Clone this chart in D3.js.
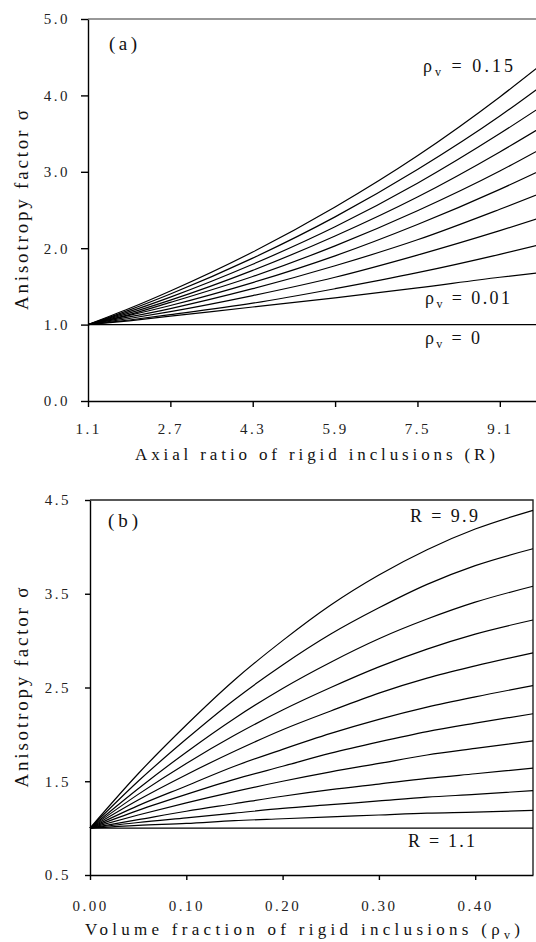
<!DOCTYPE html>
<html lang="en">
  <head>
    <meta charset="utf-8">
    <title>Anisotropy factor vs inclusions</title>
  </head>
  <style>
    body { margin: 0; background: #fff; }
    .axis path, .axis line { stroke: #000; stroke-width: 1.4px; }
    .axis text {
      font-family: 'Liberation Serif', 'DejaVu Serif', serif;
      font-size: 15px;
      fill: #222;
      letter-spacing: 2.5px;
    }
    .title, .note {
      font-family: 'Liberation Serif', 'DejaVu Serif', serif;
      fill: #111;
    }
    .curve { fill: none; stroke: #000; stroke-width: 1.2px; }
  </style>
  <body>
    <div id="svg-area"></div>
    <script src="https://cdn.jsdelivr.net/npm/d3@7"></script>
    <script>
      const svg_width = 536;
      const svg_height = 942;

      // panel (a): sigma against axial ratio R, one line per volume fraction
      const R_points = [1.1, 1.9, 2.7, 4.3, 5.9, 7.5, 9.1, 9.9];
      const sigma_a = [
        [1, 1.21, 1.44, 1.95, 2.54, 3.21, 3.98, 4.40],
        [1, 1.19, 1.40, 1.87, 2.41, 3.03, 3.73, 4.12],
        [1, 1.17, 1.36, 1.79, 2.28, 2.85, 3.50, 3.85],
        [1, 1.15, 1.32, 1.71, 2.16, 2.67, 3.26, 3.58],
        [1, 1.13, 1.29, 1.63, 2.03, 2.49, 3.01, 3.30],
        [1, 1.12, 1.25, 1.55, 1.90, 2.31, 2.77, 3.02],
        [1, 1.10, 1.21, 1.47, 1.77, 2.11, 2.51, 2.72],
        [1, 1.08, 1.17, 1.38, 1.62, 1.91, 2.23, 2.40],
        [1, 1.06, 1.13, 1.28, 1.47, 1.68, 1.92, 2.05],
        [1, 1.05, 1.11, 1.23, 1.35, 1.48, 1.62, 1.68],
        [1, 1.00, 1.00, 1.00, 1.00, 1.00, 1.00, 1.00]
      ];
      const ticks_a_x = [1.1, 2.7, 4.3, 5.9, 7.5, 9.1];
      const ticks_a_y = [0, 1, 2, 3, 4, 5];

      // panel (b): sigma against volume fraction, one line per axial ratio
      const rho_points = [0, 0.05, 0.10, 0.15, 0.20, 0.25, 0.30, 0.35, 0.40, 0.46];
      const sigma_b = [
        [1, 1.58, 2.10, 2.58, 3.00, 3.38, 3.70, 3.97, 4.19, 4.39],
        [1, 1.50, 1.95, 2.37, 2.74, 3.07, 3.35, 3.60, 3.80, 3.98],
        [1, 1.42, 1.81, 2.17, 2.49, 2.77, 3.02, 3.23, 3.41, 3.58],
        [1, 1.36, 1.69, 1.99, 2.26, 2.50, 2.72, 2.91, 3.07, 3.22],
        [1, 1.30, 1.57, 1.82, 2.05, 2.25, 2.44, 2.60, 2.73, 2.87],
        [1, 1.24, 1.45, 1.66, 1.84, 2.01, 2.16, 2.29, 2.40, 2.52],
        [1, 1.19, 1.36, 1.52, 1.66, 1.80, 1.92, 2.03, 2.12, 2.22],
        [1, 1.14, 1.27, 1.39, 1.50, 1.60, 1.69, 1.78, 1.85, 1.93],
        [1, 1.09, 1.18, 1.26, 1.34, 1.41, 1.47, 1.53, 1.58, 1.64],
        [1, 1.06, 1.11, 1.16, 1.21, 1.25, 1.29, 1.33, 1.36, 1.40],
        [1, 1.03, 1.05, 1.08, 1.10, 1.12, 1.14, 1.16, 1.17, 1.19],
        [1, 1.00, 1.00, 1.00, 1.00, 1.00, 1.00, 1.00, 1.00, 1.00]
      ];
      const ticks_b_x = [0, 0.1, 0.2, 0.3, 0.4];
      const ticks_b_y = [0.5, 1.5, 2.5, 3.5, 4.5];

      const svg = d3.select('#svg-area')
        .append('svg')
        .attr('width', svg_width)
        .attr('height', svg_height);

      //scales
      const xa = d3.scaleLinear().domain([1.1, 9.9]).range([88, 541]);
      const ya = d3.scaleLinear().domain([0, 5]).range([401, 19]);
      const xb = d3.scaleLinear().domain([0, 0.46]).range([90, 533]);
      const yb = d3.scaleLinear().domain([0.5, 4.5]).range([875, 500]);

      //axes panel (a)
      svg.append('g').attr('class', 'axis')
        .attr('transform', `translate(0,${ya(0)})`)
        .call(d3.axisBottom(xa).tickValues(ticks_a_x).tickFormat(d3.format('.1f'))
          .tickSize(6).tickPadding(16).tickSizeOuter(0));
      svg.append('g').attr('class', 'axis')
        .attr('transform', `translate(${xa(1.1)},0)`)
        .call(d3.axisLeft(ya).tickValues(ticks_a_y).tickFormat(d3.format('.1f'))
          .tickSize(7).tickPadding(11).tickSizeOuter(0));
      svg.append('line')
        .attr('x1', xa(1.1)).attr('x2', svg_width)
        .attr('y1', ya(5)).attr('y2', ya(5))
        .attr('stroke', '#333').attr('stroke-width', 1.2);

      //axes panel (b)
      svg.append('g').attr('class', 'axis')
        .attr('transform', `translate(0,${yb(0.5)})`)
        .call(d3.axisBottom(xb).tickValues(ticks_b_x).tickFormat(d3.format('.2f'))
          .tickSize(5).tickPadding(20).tickSizeOuter(0));
      svg.append('g').attr('class', 'axis')
        .attr('transform', `translate(${xb(0)},0)`)
        .call(d3.axisLeft(yb).tickValues(ticks_b_y).tickFormat(d3.format('.1f'))
          .tickSize(5).tickPadding(14).tickSizeOuter(0));
      svg.append('path')
        .attr('d', `M${xb(0)},${yb(4.5)}H${xb(0.46)}V${yb(0.5)}`)
        .attr('fill', 'none').attr('stroke', '#222').attr('stroke-width', 1.4);

      //curves
      const line_a = d3.line()
        .x((d, i) => xa(R_points[i]))
        .y(d => ya(d))
        .curve(d3.curveMonotoneX);
      const line_b = d3.line()
        .x((d, i) => xb(rho_points[i]))
        .y(d => yb(d))
        .curve(d3.curveMonotoneX);

      svg.append('clipPath').attr('id', 'clip-a')
        .append('rect').attr('x', 88).attr('y', 19).attr('width', 448).attr('height', 382);

      svg.append('g').attr('clip-path', 'url(#clip-a)')
        .selectAll('path').data(sigma_a).enter()
        .append('path')
        .attr('class', 'curve')
        .attr('d', line_a);
      svg.append('g')
        .selectAll('path').data(sigma_b).enter()
        .append('path')
        .attr('class', 'curve')
        .attr('d', line_b);

      //axis titles
      svg.append('text').attr('class', 'title')
        .attr('x', 135).attr('y', 460)
        .attr('font-size', 17)
        .attr('textLength', 360).attr('lengthAdjust', 'spacing')
        .text('Axial ratio of rigid inclusions (R)');

      const tb = svg.append('text').attr('class', 'title')
        .attr('x', 85).attr('y', 935)
        .attr('font-size', 17)
        .attr('textLength', 435).attr('lengthAdjust', 'spacing');
      tb.append('tspan').text('Volume fraction of rigid inclusions (ρ');
      tb.append('tspan').attr('font-size', 12).attr('dy', 4).text('v');
      tb.append('tspan').attr('dy', -4).text(')');

      [[21, (ya(0) + ya(5)) / 2], [21, (yb(0.5) + yb(4.5)) / 2]].forEach(p => {
        svg.append('text').attr('class', 'title')
          .attr('transform', `translate(${p[0]},${p[1]}) rotate(-90)`)
          .attr('text-anchor', 'middle')
          .attr('dy', '0.35em')
          .attr('font-size', 19)
          .attr('textLength', 200).attr('lengthAdjust', 'spacing')
          .text('Anisotropy factor σ');
      });

      //notes
      const note = (x, y, w, parts, size) => {
        const t = svg.append('text').attr('class', 'note')
          .attr('x', x).attr('y', y).attr('font-size', size || 18)
          .attr('textLength', w).attr('lengthAdjust', 'spacing');
        parts.forEach(p => {
          const s = t.append('tspan').text(p[0]);
          if (p[1] === 'sub') s.attr('font-size', 12).attr('dy', 4);
          if (p[1] === 'up') s.attr('dy', -4);
        });
      };
      note(109, 50, 28, [['(a)']], 19);
      note(108, 527, 30, [['(b)']], 19);
      note(423, 72, 90, [['ρ'], ['v', 'sub'], [' = 0.15', 'up']]);
      note(425, 304, 85, [['ρ'], ['v', 'sub'], [' = 0.01', 'up']]);
      note(425, 344, 55, [['ρ'], ['v', 'sub'], [' = 0', 'up']]);
      note(410, 522, 68, [['R = 9.9']]);
      note(408, 847, 67, [['R = 1.1']]);
    </script>
  </body>
</html>
